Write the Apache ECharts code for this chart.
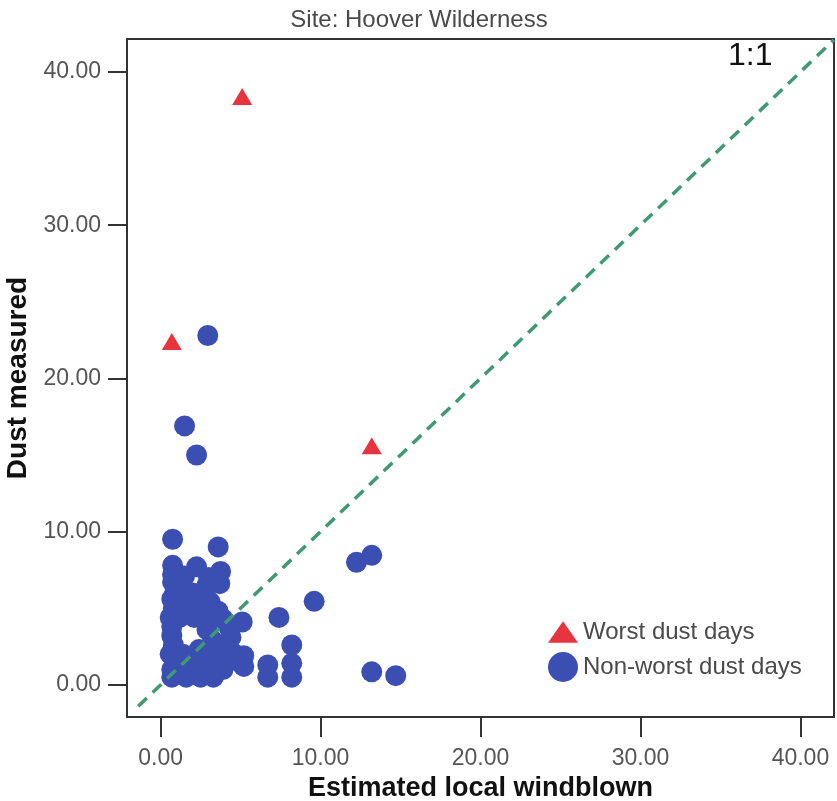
<!DOCTYPE html>
<html>
<head>
<meta charset="utf-8">
<title>Site: Hoover Wilderness</title>
<script src="https://cdn.jsdelivr.net/npm/echarts@6/dist/echarts.min.js"></script>
<style>
  html, body { margin: 0; padding: 0; background: #ffffff; }
  #chart { width: 837px; height: 801px; }
</style>
</head>
<body>
<div id="chart"></div>
<script>
// Axis tick values (both axes share the same scale)
const xTicks = [0, 10, 20, 30, 40];
const yTicks = [0, 10, 20, 30, 40];

// Worst dust days: [estimated local windblown, dust measured]
const worstDays = [
  [5.1, 38.4],
  [0.7, 22.4],
  [13.2, 15.6]
];

// Non-worst dust days: [estimated local windblown, dust measured]
const nonWorstDays = [
  // scattered points
  [2.95, 22.8], [1.5, 16.9], [2.25, 15.0], [0.75, 9.5], [3.6, 9.0],
  [12.25, 8.0], [13.2, 8.45], [9.6, 5.45], [7.4, 4.4], [5.1, 4.1],
  [8.2, 2.6], [8.2, 1.4], [8.2, 0.5], [6.7, 1.3], [6.7, 0.5],
  [13.2, 0.85], [14.7, 0.6], [5.2, 1.9], [5.2, 1.2],
  // dense low cluster
  [0.75, 7.8], [2.25, 7.7], [3.75, 7.4],
  [0.75, 7.2], [1.5, 7.1], [3.0, 7.0],
  [0.75, 6.7], [1.3, 6.6], [2.9, 6.5], [3.7, 6.6],
  [0.9, 6.1], [2.0, 6.0], [2.7, 5.9],
  [0.7, 5.6], [1.6, 5.5], [2.4, 5.5], [3.1, 5.4],
  [0.8, 5.0], [1.4, 5.0], [2.0, 4.9], [2.8, 4.9], [3.6, 4.8],
  [0.6, 4.4], [1.2, 4.4], [2.1, 4.4], [3.0, 4.5], [3.9, 4.3],
  [0.7, 3.8], [2.9, 3.6], [4.3, 3.7],
  [0.7, 3.2], [3.25, 2.9], [4.4, 3.1],
  [0.8, 2.6], [2.4, 2.3], [3.9, 2.5],
  [0.6, 2.0], [1.4, 2.0], [2.9, 2.0], [3.6, 2.0], [4.5, 2.1],
  [0.9, 1.5], [1.8, 1.5], [2.6, 1.5], [3.4, 1.5], [4.2, 1.5],
  [0.7, 1.0], [1.4, 1.0], [2.3, 1.0], [3.1, 1.0], [3.9, 1.0],
  [0.7, 0.5], [1.6, 0.5], [2.5, 0.5], [3.3, 0.5]
];

// Endpoints of the 1:1 reference line
const identityLine = [[-1.4, -1.4], [42.1, 42.1]];

const FONT = "'Liberation Sans', Arial, sans-serif";
const fmt = v => v.toFixed(2);

const chart = echarts.init(document.getElementById('chart'), null, { renderer: 'canvas' });

chart.setOption({
  backgroundColor: '#ffffff',
  animation: false,
  title: {
    text: 'Site: Hoover Wilderness',
    left: 414,
    textAlign: 'center',
    top: 3,
    textStyle: { color: '#4a4a4a', fontSize: 24, fontWeight: 'normal', fontFamily: FONT }
  },
  grid: {
    left: 127, right: 3, top: 39, bottom: 84,
    show: true,
    borderColor: '#333333',
    borderWidth: 2,
    containLabel: false,
    outerBoundsMode: 'none'
  },
  legend: {
    orient: 'vertical',
    left: 543,
    top: 615,
    itemWidth: 30,
    itemHeight: 30,
    itemGap: 8,
    textStyle: { color: '#4a4a4a', fontSize: 24, fontFamily: FONT },
    data: [
      { name: 'Worst dust days', icon: 'path://M0,21L14.5,0L29,21Z' },
      { name: 'Non-worst dust days', icon: 'circle' }
    ]
  },
  xAxis: {
    type: 'value',
    min: -2.1,
    max: 42.1,
    name: 'Estimated local windblown',
    nameLocation: 'middle',
    nameGap: 50,
    nameTextStyle: { color: '#111111', fontSize: 27, fontWeight: 'bold', fontFamily: FONT },
    axisLine: { show: true, onZero: false, lineStyle: { color: '#333333', width: 2 } },
    axisTick: { show: true, inside: false, length: 20, customValues: xTicks, lineStyle: { color: '#333333', width: 2 } },
    axisLabel: { customValues: xTicks, formatter: fmt, margin: 30, color: '#555555', fontSize: 23, fontFamily: FONT },
    splitLine: { show: false }
  },
  yAxis: {
    type: 'value',
    min: -2.1,
    max: 42.15,
    name: 'Dust measured',
    nameLocation: 'middle',
    nameGap: 88,
    nameRotate: 90,
    nameTextStyle: { color: '#111111', fontSize: 28, fontWeight: 'bold', fontFamily: FONT },
    axisLine: { show: true, onZero: false, lineStyle: { color: '#333333', width: 2 } },
    axisTick: { show: true, inside: false, length: 19, customValues: yTicks, lineStyle: { color: '#333333', width: 2 } },
    axisLabel: { customValues: yTicks, formatter: fmt, margin: 26, color: '#555555', fontSize: 23, fontFamily: FONT },
    splitLine: { show: false }
  },
  graphic: [
    {
      type: 'text',
      left: 728,
      top: 40,
      style: { text: '1:1', fill: '#111111', fontSize: 32, fontFamily: FONT }
    }
  ],
  series: [
    {
      name: 'Non-worst dust days',
      type: 'scatter',
      data: nonWorstDays,
      symbol: 'circle',
      symbolSize: 21,
      itemStyle: { color: '#3b4fb3', opacity: 1 },
      z: 2
    },
    {
      name: 'Worst dust days',
      type: 'scatter',
      data: worstDays,
      symbol: 'triangle',
      symbolSize: [20, 17],
      itemStyle: { color: '#e8343f', opacity: 1 },
      z: 3
    },
    {
      name: '1:1',
      type: 'line',
      data: identityLine,
      showSymbol: false,
      silent: true,
      clip: true,
      lineStyle: { color: '#3f9a74', width: 3.5, type: [12, 8] },
      z: 4
    }
  ]
});
</script>
</body>
</html>
